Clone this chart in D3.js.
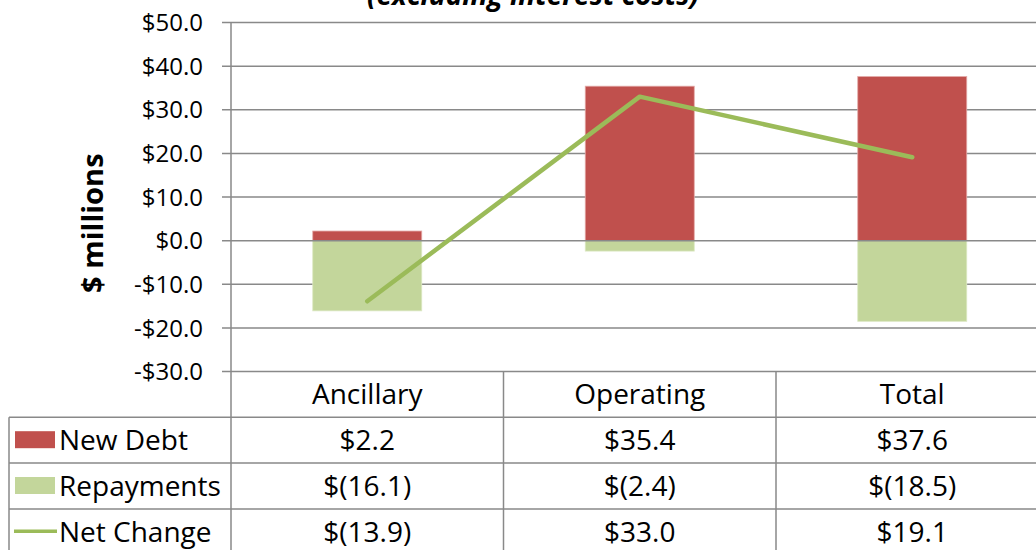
<!DOCTYPE html>
<html>
<head>
<meta charset="utf-8">
<script src="https://cdn.jsdelivr.net/npm/d3@7"></script>
<style>
  body { margin: 0; background: #fff; }
  text { font-family: "Open Sans", Lato, sans-serif; fill: #000; }
</style>
</head>
<body>
<div id="chart"></div>
<script>
// data
const categories = ["Ancillary", "Operating", "Total"];
const newDebt = [2.2, 35.4, 37.6];
const repayments = [-16.1, -2.4, -18.5];
const netChange = [-13.9, 33.0, 19.1];
const yTicks = [-30, -20, -10, 0, 10, 20, 30, 40, 50];

const width = 1036, height = 550;
const plotLeft = 231, colW = 272.5;
const plotRight = plotLeft + colW * 3;
const plotTop = 22.5, plotBottom = 371.5;
const rowH = 45.8;

const svg = d3.select("#chart").append("svg")
    .attr("width", width)
    .attr("height", height);

const x = d3.scaleBand().domain(categories).range([plotLeft, plotRight]);
const xBar = d3.scaleBand().domain(categories).range([plotLeft, plotRight])
    .paddingInner(0.6).paddingOuter(0.3);
const y = d3.scaleLinear().domain([-30, 50]).range([plotBottom, plotTop]);

const fmtTick = v => (v < 0 ? "-$" : "$") + Math.abs(v).toFixed(1);
const fmtCell = v => v < 0 ? "$(" + Math.abs(v).toFixed(1) + ")" : "$" + v.toFixed(1);

const grey = "#898989";

// title (mostly cut off at the top)
svg.append("text")
    .attr("x", 533).attr("y", 5)
    .attr("text-anchor", "middle")
    .attr("font-size", 28)
    .attr("font-weight", "bold")
    .attr("font-style", "italic")
    .text("(excluding interest costs)");

// gridlines + tick marks
svg.append("g").selectAll("line")
    .data(yTicks.filter(d => d !== 0))
    .enter().append("line")
    .attr("x1", plotLeft - 9).attr("x2", plotRight)
    .attr("y1", d => y(d)).attr("y2", d => y(d))
    .attr("stroke", grey).attr("stroke-width", 1.5);

// tick labels
svg.append("g").selectAll("text")
    .data(yTicks)
    .enter().append("text")
    .attr("x", 203)
    .attr("y", d => y(d))
    .attr("dy", "0.36em")
    .attr("text-anchor", "end")
    .attr("font-size", 24)
    .text(fmtTick);

// axis title
svg.append("text")
    .attr("transform", "translate(103," + y(4) + ") rotate(-90)")
    .attr("text-anchor", "middle")
    .attr("font-size", 29)
    .attr("font-weight", "bold")
    .text("$ millions");

// bars
svg.append("g").selectAll("rect")
    .data(categories)
    .enter().append("rect")
    .attr("x", d => xBar(d))
    .attr("width", xBar.bandwidth())
    .attr("y", (d, i) => y(newDebt[i]))
    .attr("height", (d, i) => y(0) - y(newDebt[i]))
    .attr("fill", "#C0504D")
    .attr("stroke", "#E3A8A6").attr("stroke-width", 0.8);

svg.append("g").selectAll("rect")
    .data(categories)
    .enter().append("rect")
    .attr("x", d => xBar(d))
    .attr("width", xBar.bandwidth())
    .attr("y", y(0))
    .attr("height", (d, i) => y(repayments[i]) - y(0))
    .attr("fill", "#C3D69B")
    .attr("stroke", "#DCE8C4").attr("stroke-width", 0.8);

// zero line
svg.append("line")
    .attr("x1", plotLeft - 9).attr("x2", plotRight)
    .attr("y1", y(0)).attr("y2", y(0))
    .attr("stroke", grey).attr("stroke-width", 1.5);

// net change line
const line = d3.line()
    .x((d, i) => x(categories[i]) + x.bandwidth() / 2)
    .y(d => y(d));

svg.append("path")
    .datum(netChange)
    .attr("d", line)
    .attr("fill", "none")
    .attr("stroke", "#9BBB59")
    .attr("stroke-width", 4.5)
    .attr("stroke-linecap", "round")
    .attr("stroke-linejoin", "round");

// data table
const tableTop = plotBottom;
const tableLeft = 9;
const rows = [
    { name: "New Debt", values: newDebt, color: "#C0504D", key: "rect" },
    { name: "Repayments", values: repayments, color: "#C3D69B", key: "rect" },
    { name: "Net Change", values: netChange, color: "#9BBB59", key: "line" }
];

const table = svg.append("g");

// horizontal rules
table.selectAll("line.h")
    .data(d3.range(1, rows.length + 1))
    .enter().append("line")
    .attr("x1", tableLeft).attr("x2", plotRight)
    .attr("y1", d => tableTop + d * rowH).attr("y2", d => tableTop + d * rowH)
    .attr("stroke", grey).attr("stroke-width", 1.5);

// vertical rules (axis line continues down through the table)
table.append("line")
    .attr("x1", plotLeft).attr("x2", plotLeft)
    .attr("y1", plotTop).attr("y2", height)
    .attr("stroke", grey).attr("stroke-width", 1.5);
table.selectAll("line.v")
    .data(categories.slice(1).concat(["end"]))
    .enter().append("line")
    .attr("x1", (d, i) => plotLeft + (i + 1) * colW).attr("x2", (d, i) => plotLeft + (i + 1) * colW)
    .attr("y1", tableTop).attr("y2", height)
    .attr("stroke", grey).attr("stroke-width", 1.5);
table.append("line")
    .attr("x1", tableLeft).attr("x2", tableLeft)
    .attr("y1", tableTop + rowH).attr("y2", height)
    .attr("stroke", grey).attr("stroke-width", 1.5);

// header
table.selectAll("text.head")
    .data(categories)
    .enter().append("text")
    .attr("x", d => x(d) + x.bandwidth() / 2)
    .attr("y", tableTop + rowH / 2)
    .attr("dy", "0.36em")
    .attr("text-anchor", "middle")
    .attr("font-size", 28)
    .text(d => d);

rows.forEach((r, ri) => {
    const cy = tableTop + rowH * (ri + 1) + rowH / 2;
    if (r.key === "rect") {
        table.append("rect")
            .attr("x", 15).attr("y", cy - 9)
            .attr("width", 40).attr("height", 17)
            .attr("fill", r.color);
    } else {
        table.append("line")
            .attr("x1", 14).attr("x2", 57)
            .attr("y1", cy - 0.5).attr("y2", cy - 0.5)
            .attr("stroke", r.color).attr("stroke-width", 3.5);
    }
    table.append("text")
        .attr("x", 59).attr("y", cy)
        .attr("dy", "0.36em")
        .attr("font-size", 28)
        .text(r.name);
    table.selectAll(null)
        .data(r.values)
        .enter().append("text")
        .attr("x", (d, i) => x(categories[i]) + x.bandwidth() / 2)
        .attr("y", cy)
        .attr("dy", "0.36em")
        .attr("text-anchor", "middle")
        .attr("font-size", 28)
        .text(fmtCell);
});
</script>
</body>
</html>
